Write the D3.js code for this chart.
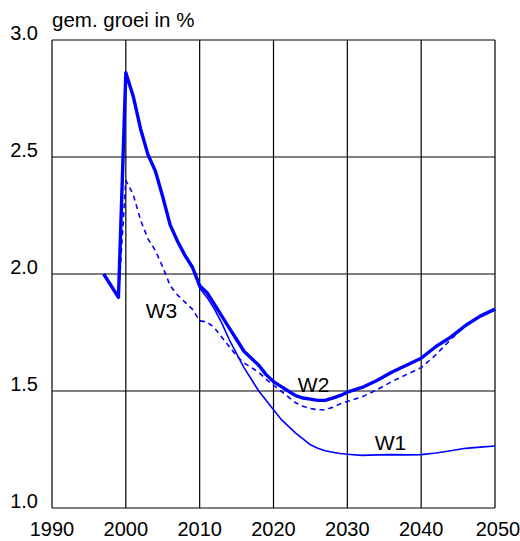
<!DOCTYPE html>
<html>
<head>
<meta charset="utf-8">
<script src="https://cdn.jsdelivr.net/npm/d3@7"></script>
<style>
  body { margin: 0; background: #fff; }
  text { font-family: "Liberation Sans", Arial, sans-serif; fill: #000; }
</style>
</head>
<body>
<div id="chart"></div>
<script>
// years and series values (gem. groei in %)
const yearsW2 = [1997, 1999, 2000, 2001, 2002, 2003, 2004, 2005, 2006, 2007, 2008, 2009, 2010,
  2011, 2012, 2013, 2014, 2015, 2016, 2017, 2018, 2019, 2020, 2021, 2022, 2023, 2024, 2025,
  2026, 2027, 2028, 2029, 2030, 2032, 2034, 2036, 2038, 2040, 2042, 2044, 2046, 2048, 2050];
const valuesW2 = [2.00, 1.90, 2.86, 2.76, 2.62, 2.51, 2.44, 2.33, 2.21, 2.14, 2.08, 2.03, 1.95,
  1.92, 1.87, 1.82, 1.77, 1.72, 1.67, 1.64, 1.61, 1.57, 1.54, 1.52, 1.50, 1.48, 1.47, 1.465,
  1.46, 1.46, 1.47, 1.48, 1.495, 1.515, 1.545, 1.58, 1.61, 1.64, 1.69, 1.73, 1.78, 1.82, 1.85];

const yearsW1 = [1997, 1999, 2000, 2001, 2002, 2003, 2004, 2005, 2006, 2007, 2008, 2009, 2010,
  2011, 2012, 2013, 2014, 2015, 2016, 2017, 2018, 2019, 2020, 2021, 2022, 2023, 2024, 2025,
  2026, 2027, 2028, 2029, 2030, 2032, 2034, 2036, 2038, 2040, 2042, 2044, 2046, 2048, 2050];
const valuesW1 = [2.00, 1.90, 2.86, 2.76, 2.62, 2.51, 2.44, 2.33, 2.21, 2.14, 2.08, 2.03, 1.94,
  1.90, 1.85, 1.79, 1.72, 1.66, 1.60, 1.55, 1.50, 1.46, 1.42, 1.38, 1.35, 1.32, 1.295, 1.27,
  1.255, 1.245, 1.238, 1.233, 1.23, 1.225, 1.227, 1.228, 1.227, 1.228, 1.235, 1.245, 1.255, 1.26, 1.265];

const yearsW3 = [1997, 1999, 2000, 2001, 2002, 2003, 2004, 2005, 2006, 2007, 2008, 2009, 2010,
  2011, 2012, 2013, 2014, 2015, 2016, 2017, 2018, 2019, 2020, 2021, 2022, 2023, 2024, 2025,
  2026, 2027, 2028, 2029, 2030, 2032, 2034, 2036, 2038, 2040, 2042, 2044, 2046, 2048, 2050];
const valuesW3 = [2.00, 1.90, 2.40, 2.34, 2.23, 2.15, 2.10, 2.03, 1.95, 1.91, 1.88, 1.85, 1.80,
  1.795, 1.77, 1.73, 1.69, 1.65, 1.62, 1.60, 1.58, 1.55, 1.525, 1.50, 1.475, 1.45, 1.435, 1.425,
  1.42, 1.42, 1.43, 1.445, 1.455, 1.475, 1.505, 1.54, 1.57, 1.60, 1.655, 1.72, 1.78, 1.82, 1.85];

const xTicks = [1990, 2000, 2010, 2020, 2030, 2040, 2050];
const yTicks = [1.0, 1.5, 2.0, 2.5, 3.0];

// label anchors (year, value) = left end of text on baseline
const labels = [
  {name: "W1", year: 2033.7, value: 1.249},
  {name: "W2", year: 2023.3, value: 1.497},
  {name: "W3", year: 2002.7, value: 1.81}
];

const width = 520, height = 541;
const margin = {top: 40, right: 25, bottom: 33, left: 52};

const svg = d3.select("#chart").append("svg")
  .attr("width", width)
  .attr("height", height);

const x = d3.scaleLinear()
  .domain([1990, 2050])
  .range([margin.left, width - margin.right]);

const y = d3.scaleLinear()
  .domain([1.0, 3.0])
  .range([height - margin.bottom, margin.top]);

// grid
svg.append("g")
  .selectAll("line")
  .data(xTicks)
  .join("line")
  .attr("x1", d => x(d)).attr("x2", d => x(d))
  .attr("y1", y(1.0)).attr("y2", y(3.0))
  .attr("stroke", "#000")
  .attr("stroke-width", 1.2);

svg.append("g")
  .selectAll("line")
  .data(yTicks)
  .join("line")
  .attr("x1", x(1990)).attr("x2", x(2050))
  .attr("y1", d => y(d)).attr("y2", d => y(d))
  .attr("stroke", "#000")
  .attr("stroke-width", 1.2);

// tick labels
svg.append("g")
  .selectAll("text")
  .data(yTicks)
  .join("text")
  .attr("x", 38)
  .attr("y", d => y(d))
  .attr("text-anchor", "end")
  .attr("font-size", 20)
  .text(d => d.toFixed(1));

svg.append("g")
  .selectAll("text")
  .data(xTicks)
  .join("text")
  .attr("x", d => x(d) + (d === 2050 ? 3 : 0))
  .attr("y", 536)
  .attr("text-anchor", "middle")
  .attr("font-size", 20)
  .text(d => d);

svg.append("text")
  .attr("x", 52)
  .attr("y", 27)
  .attr("font-size", 20.5)
  .text("gem. groei in %");

// lines
const line = d3.line()
  .x(d => x(d[0]))
  .y(d => y(d[1]));

const series = [
  {years: yearsW3, values: valuesW3, width: 1.6, dash: "5,4"},
  {years: yearsW1, values: valuesW1, width: 1.6, dash: null},
  {years: yearsW2, values: valuesW2, width: 3.4, dash: null}
];

svg.append("g")
  .selectAll("path")
  .data(series)
  .join("path")
  .attr("d", s => line(d3.zip(s.years, s.values)))
  .attr("fill", "none")
  .attr("stroke", "#0000ff")
  .attr("stroke-width", s => s.width)
  .attr("stroke-dasharray", s => s.dash)
  .attr("stroke-linejoin", "round");

svg.append("g")
  .selectAll("text")
  .data(labels)
  .join("text")
  .attr("x", d => x(d.year))
  .attr("y", d => y(d.value))
  .attr("font-size", 21)
  .text(d => d.name);
</script>
</body>
</html>
